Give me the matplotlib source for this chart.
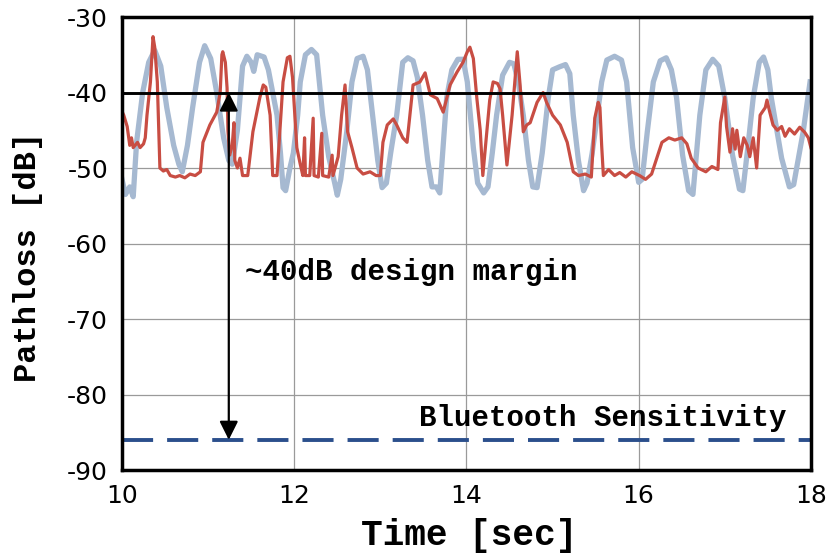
import matplotlib
matplotlib.use("Agg")
import matplotlib.pyplot as plt

plt.rcParams["axes.unicode_minus"] = False

# ---- data ----
blue_t = [10.00, 10.04, 10.09, 10.13, 10.17, 10.24, 10.31, 10.38, 10.45, 10.52, 10.60, 10.66, 10.70, 10.76,
          10.82, 10.90, 10.96, 11.03, 11.10, 11.18, 11.24, 11.28, 11.34, 11.40, 11.45, 11.50, 11.53, 11.57,
          11.65, 11.70, 11.80, 11.84, 11.87, 11.90, 11.95, 11.99, 12.04, 12.07, 12.13, 12.20, 12.26, 12.33,
          12.40, 12.47, 12.50, 12.54, 12.61, 12.67, 12.73, 12.80, 12.85, 12.91, 12.97, 13.02, 13.07, 13.12,
          13.19, 13.26, 13.32, 13.38, 13.43, 13.49, 13.55, 13.60, 13.65, 13.69, 13.73, 13.77, 13.83, 13.90,
          13.96, 14.01, 14.08, 14.13, 14.20, 14.25, 14.30, 14.35, 14.42, 14.50, 14.55, 14.60, 14.66, 14.72,
          14.77, 14.82, 14.88, 14.95, 15.00, 15.08, 15.15, 15.20, 15.24, 15.30, 15.36, 15.40, 15.46, 15.52,
          15.57, 15.63, 15.72, 15.80, 15.86, 15.93, 16.00, 16.04, 16.10, 16.17, 16.25, 16.32, 16.38, 16.44,
          16.51, 16.58, 16.63, 16.71, 16.78, 16.86, 16.93, 17.00, 17.09, 17.17, 17.21, 17.27, 17.33, 17.40,
          17.45, 17.50, 17.54, 17.66, 17.75, 17.80, 17.91, 17.99]
blue_v = [-51.5, -53.5, -52.5, -53.8, -46.5, -40.0, -36.0, -34.4, -36.5, -42.0, -47.0, -49.5, -50.5, -47.0,
          -42.0, -36.0, -33.8, -35.5, -40.0, -46.0, -49.0, -49.5, -45.0, -36.5, -35.2, -36.0, -37.2, -35.0,
          -35.3, -37.0, -43.0, -48.0, -52.6, -53.0, -50.0, -48.0, -43.0, -38.6, -35.0, -34.3, -35.0, -43.0,
          -48.5, -52.0, -53.6, -51.5, -45.2, -38.6, -35.5, -35.2, -37.0, -43.0, -49.0, -52.6, -52.0, -48.0,
          -43.0, -36.0, -35.4, -35.8, -38.0, -43.0, -49.0, -52.5, -52.5, -53.3, -47.0, -40.7, -37.0, -35.6,
          -35.6, -38.6, -47.3, -52.0, -53.3, -52.5, -48.0, -43.0, -37.7, -36.0, -36.2, -38.5, -43.0, -49.0,
          -52.5, -52.6, -48.0, -40.7, -37.0, -36.6, -36.3, -37.5, -43.0, -49.0, -53.0, -52.0, -48.0, -43.0,
          -38.6, -35.7, -35.2, -35.7, -38.6, -47.3, -51.9, -51.5, -45.2, -38.6, -35.8, -35.4, -37.0, -40.7,
          -48.3, -53.0, -53.5, -43.0, -37.0, -35.6, -36.5, -40.7, -48.3, -52.8, -53.0, -47.0, -40.7, -36.0,
          -35.3, -37.0, -40.7, -48.7, -52.5, -52.2, -45.2, -38.6]

red_t = [10.00, 10.02, 10.06, 10.09, 10.11, 10.13, 10.18, 10.21, 10.25, 10.27, 10.29, 10.33, 10.36, 10.38,
         10.41, 10.44, 10.48, 10.52, 10.56, 10.62, 10.67, 10.73, 10.79, 10.85, 10.91, 10.94, 11.02, 11.10,
         11.14, 11.16, 11.17, 11.20, 11.22, 11.23, 11.25, 11.28, 11.30, 11.31, 11.34, 11.37, 11.40, 11.46,
         11.52, 11.60, 11.64, 11.67, 11.72, 11.75, 11.80, 11.84, 11.87, 11.92, 11.95, 11.98, 12.03, 12.07,
         12.10, 12.12, 12.13, 12.18, 12.22, 12.23, 12.28, 12.32, 12.33, 12.40, 12.44, 12.45, 12.51, 12.55,
         12.59, 12.62, 12.67, 12.73, 12.80, 12.88, 12.95, 13.00, 13.03, 13.08, 13.15, 13.19, 13.26, 13.31,
         13.38, 13.46, 13.52, 13.58, 13.66, 13.73, 13.81, 13.89, 13.96, 14.01, 14.04, 14.08, 14.12, 14.16,
         14.19, 14.23, 14.27, 14.31, 14.36, 14.39, 14.42, 14.47, 14.53, 14.59, 14.62, 14.66, 14.70, 14.74,
         14.82, 14.89, 14.93, 15.00, 15.09, 15.17, 15.24, 15.30, 15.38, 15.45, 15.49, 15.53, 15.55, 15.57,
         15.59, 15.65, 15.72, 15.78, 15.85, 15.92, 16.01, 16.08, 16.15, 16.21, 16.27, 16.35, 16.42, 16.50,
         16.56, 16.61, 16.69, 16.78, 16.85, 16.92, 16.95, 17.00, 17.02, 17.06, 17.09, 17.12, 17.14, 17.18,
         17.22, 17.26, 17.29, 17.33, 17.37, 17.41, 17.47, 17.49, 17.52, 17.56, 17.61, 17.66, 17.70, 17.75,
         17.81, 17.87, 17.93, 17.97, 18.00]
red_v = [-42.5, -43.0, -44.5, -47.0, -46.0, -47.3, -46.6, -47.3, -46.8, -46.0, -43.0, -38.6, -32.6, -34.0,
         -38.6, -50.0, -50.4, -50.2, -51.0, -51.2, -51.0, -51.3, -50.8, -51.0, -50.5, -46.6, -44.3, -42.6,
         -40.0, -35.0, -34.6, -36.0, -39.4, -45.0, -48.3, -47.0, -44.0, -49.0, -50.0, -48.7, -51.0, -51.0,
         -45.2, -40.7, -39.0, -39.3, -43.0, -51.0, -51.0, -44.0, -38.6, -35.4, -35.2, -38.0, -47.3, -49.5,
         -51.0, -46.0, -51.0, -51.0, -43.4, -51.0, -51.2, -45.4, -51.0, -51.2, -48.3, -51.0, -48.5, -43.0,
         -39.0, -45.2, -47.3, -50.0, -50.8, -50.5, -51.0, -51.0, -46.6, -44.3, -43.5, -44.3, -46.0, -46.6,
         -39.0, -38.6, -37.4, -40.3, -40.8, -42.6, -39.0, -37.3, -36.0, -34.6, -34.0, -35.5, -40.7, -45.0,
         -51.0, -46.0, -41.0, -38.6, -38.8, -39.5, -43.0, -49.6, -43.0, -34.6, -38.6, -45.2, -44.3, -44.0,
         -41.3, -40.0, -41.3, -43.0, -44.3, -46.6, -50.5, -51.0, -50.8, -51.2, -43.4, -41.3, -42.0, -47.0,
         -51.0, -50.2, -51.0, -50.6, -51.2, -50.5, -51.0, -51.5, -50.8, -48.7, -46.6, -46.0, -46.3, -46.0,
         -46.8, -48.7, -50.0, -50.5, -49.8, -50.2, -44.0, -40.6, -44.5, -47.9, -44.8, -47.5, -45.0, -48.5,
         -46.0, -47.0, -48.5, -46.0, -50.0, -43.0, -42.0, -41.0, -42.5, -44.3, -45.0, -44.5, -45.8, -44.8,
         -45.5, -44.6, -45.3, -46.0, -47.3]

x_ticks = [10, 12, 14, 16, 18]
y_ticks = [-90, -80, -70, -60, -50, -40, -30]
margin_level = -40
sensitivity_level = -86
arrow_time = 11.24

# ---- figure ----
fig = plt.figure(figsize=(8.3, 5.54), dpi=100)
ax = fig.add_axes([0.147, 0.1516, 0.830, 0.8177])

ax.set_xlim(10, 18)
ax.set_ylim(-90, -30)
ax.set_xticks(x_ticks)
ax.set_yticks(y_ticks)

for t in x_ticks[1:-1]:
    ax.axvline(t, color="#9a9a9a", lw=0.9, zorder=0)
for v in y_ticks[1:-1]:
    if v != margin_level:
        ax.axhline(v, color="#9a9a9a", lw=0.9, zorder=0)

ax.plot(blue_t, blue_v, color="#a6b9d1", lw=3.8, solid_joinstyle="round", zorder=2)
ax.plot(red_t, red_v, color="#c84d43", lw=2.3, solid_joinstyle="round", zorder=3)

ax.axhline(margin_level, color="black", lw=2.1, zorder=4)
ax.axhline(sensitivity_level, color="#2b4f8c", lw=2.8, dashes=(8, 3.6), zorder=4)

ax.annotate("", xy=(arrow_time, margin_level), xytext=(arrow_time, sensitivity_level),
            arrowprops=dict(arrowstyle="<|-|>", color="black", lw=1.6,
                            mutation_scale=28, shrinkA=0, shrinkB=0), zorder=5)

mono = dict(family="Liberation Mono", fontweight="bold")
ax.text(11.43, -63.8, "~40dB design margin", fontsize=21, va="center", ha="left", **mono)
ax.text(17.72, -83.1, "Bluetooth Sensitivity", fontsize=21, va="center", ha="right", **mono)

ax.set_xlabel("Time [sec]", fontsize=26, va="center", **mono)
ax.set_ylabel("Pathloss [dB]", fontsize=23, va="center", **mono)
ax.xaxis.set_label_coords(0.504, -0.1435)
ax.yaxis.set_label_coords(-0.136, 0.47)

ax.tick_params(length=0, labelsize=18)
ax.tick_params(axis="x", pad=10)
ax.tick_params(axis="y", pad=10)
for lab in ax.get_xticklabels() + ax.get_yticklabels():
    lab.set_family("DejaVu Sans")

for s in ax.spines.values():
    s.set_linewidth(2.5)
    s.set_color("black")
    s.set_zorder(6)

fig.savefig("out.png", dpi=100)
